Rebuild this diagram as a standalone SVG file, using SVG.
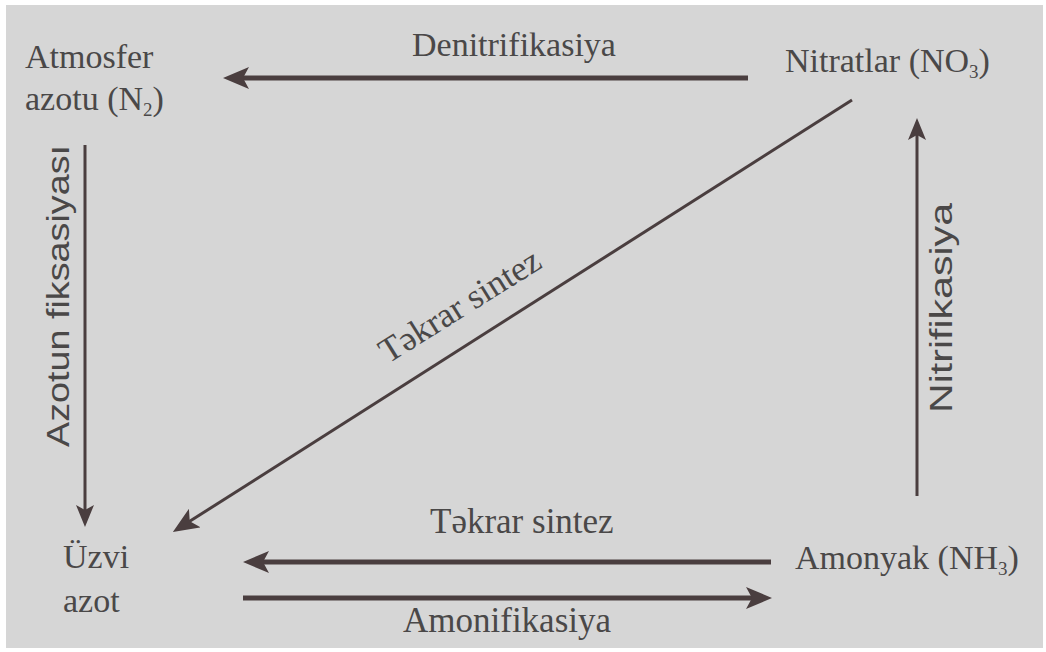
<svg xmlns="http://www.w3.org/2000/svg" width="1046" height="652" viewBox="0 0 1046 652">
  <style>
    .t { font-family: "Liberation Serif", "DejaVu Serif", serif; font-size: 34px; fill: #4a4848; }
    .lb { font-family: "Liberation Serif", "DejaVu Serif", serif; font-size: 35px; fill: #4a4848; }
    .ls { font-family: "Liberation Sans", Arial, sans-serif; font-size: 31px; fill: #4a4848; }
    .sub { font-size: 19px; }
    .thick { stroke: #4a3e3f; stroke-width: 5; fill: none; }
    .thin { stroke: #4a3e3f; stroke-width: 3; fill: none; }
  </style>
  <defs>
    <marker id="ahBig" markerUnits="userSpaceOnUse" viewBox="0 0 26 22" refX="14" refY="11" markerWidth="26" markerHeight="22" orient="auto">
      <path d="M0,0 L26,11 L0,22 L6,11 Z" fill="#4a3e3f"/>
    </marker>
    <marker id="ahSmall" markerUnits="userSpaceOnUse" viewBox="0 0 22 18" refX="12" refY="9" markerWidth="22" markerHeight="18" orient="auto">
      <path d="M0,0 L22,9 L0,18 L5,9 Z" fill="#4a3e3f"/>
    </marker>
  </defs>
  <rect x="0" y="0" width="1046" height="652" fill="#ffffff"/>
  <rect x="6" y="5" width="1037" height="643" fill="#d6d6d6"/>

  <g id="connectors">
    <g id="denitrifikasiya">
      <line x1="748" y1="78" x2="235" y2="78" class="thick" marker-end="url(#ahBig)"/>
      <text x="412" y="56" class="t">Denitrifikasiya</text>
    </g>
    <g id="azot-fiksasiyasi">
      <line x1="85" y1="145" x2="85" y2="517" class="thin" marker-end="url(#ahSmall)"/>
      <text transform="translate(69,447) rotate(-90)" class="ls" textLength="302" lengthAdjust="spacingAndGlyphs">Azotun fiksasiyası</text>
    </g>
    <g id="nitrifikasiya">
      <line x1="917" y1="496" x2="917" y2="128" class="thin" marker-end="url(#ahSmall)"/>
      <text transform="translate(952,413) rotate(-90)" class="ls" textLength="210" lengthAdjust="spacingAndGlyphs">Nitrifikasiya</text>
    </g>
    <g id="tekrar-sintez-diag">
      <line x1="852" y1="100" x2="183" y2="525.6" class="thin" marker-end="url(#ahBig)"/>
      <text transform="translate(388,364) rotate(-32)" class="lb">Təkrar sintez</text>
    </g>
    <g id="tekrar-sintez-horiz">
      <line x1="771" y1="562" x2="255" y2="562" class="thick" marker-end="url(#ahBig)"/>
      <text x="430" y="533" class="lb">Təkrar sintez</text>
    </g>
    <g id="amonifikasiya">
      <line x1="243" y1="598" x2="760" y2="598" class="thick" marker-end="url(#ahBig)"/>
      <text x="403" y="632" class="lb">Amonifikasiya</text>
    </g>
  </g>

  <g id="node-atmosfer">
    <text x="25" y="68" class="t">Atmosfer</text>
    <text x="25" y="110" class="t">azotu (N<tspan class="sub" dy="6">2</tspan><tspan dy="-6">)</tspan></text>
  </g>
  <g id="node-nitratlar">
    <text x="785" y="72" class="t">Nitratlar (NO<tspan class="sub" dy="6">3</tspan><tspan dy="-6">)</tspan></text>
  </g>
  <g id="node-uzvi">
    <text x="63" y="568" class="t">Üzvi</text>
    <text x="63" y="612" class="t">azot</text>
  </g>
  <g id="node-amonyak">
    <text x="795" y="569" class="t">Amonyak (NH<tspan class="sub" dy="6">3</tspan><tspan dy="-6">)</tspan></text>
  </g>
</svg>
